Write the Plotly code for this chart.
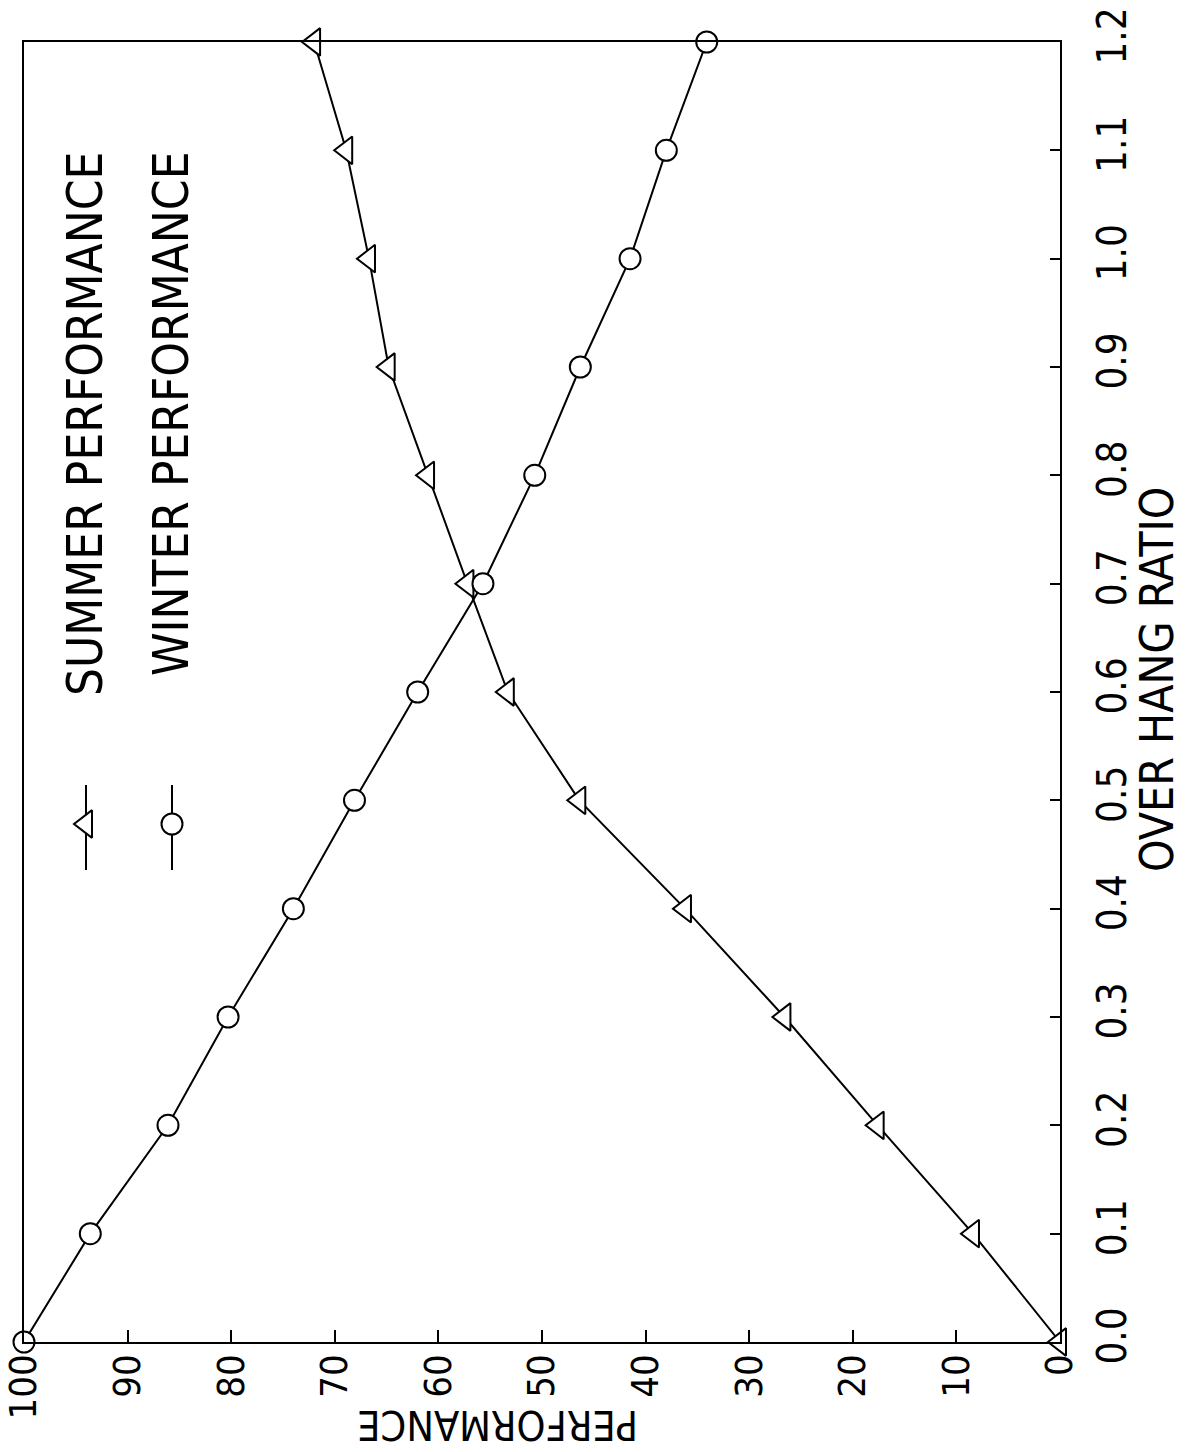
import plotly.graph_objects as go

# ---------------- data ----------------
overhang_ratio = [0.0, 0.1, 0.2, 0.3, 0.4, 0.5, 0.6, 0.7, 0.8, 0.9, 1.0, 1.1, 1.2]
summer_perf = [0.0, 8.4, 17.6, 26.6, 36.2, 46.4, 53.3, 57.2, 61.0, 64.8, 66.7, 68.9, 72.0]
winter_perf = [100.0, 93.6, 86.1, 80.3, 74.0, 68.1, 62.0, 55.7, 50.7, 46.3, 41.5, 38.0, 34.1]

perf_ticks = [0, 10, 20, 30, 40, 50, 60, 70, 80, 90, 100]
perf_labels = ["0", "10", "20", "30", "40", "50", "60", "70", "80", "90", "100"]
ratio_ticks = [0.0, 0.1, 0.2, 0.3, 0.4, 0.5, 0.6, 0.7, 0.8, 0.9, 1.0, 1.1, 1.2]
ratio_labels = ["0.0", "0.1", "0.2", "0.3", "0.4", "0.5", "0.6", "0.7", "0.8", "0.9", "1.0", "1.1", "1.2"]

series_names = ["SUMMER PERFORMANCE", "WINTER PERFORMANCE"]
x_title = "OVER HANG RATIO"
y_title = "PERFORMANCE"

# ---------------- layout geometry ----------------
W, H = 1190, 1452
L, R, T, B = 24, 1060, 42, 1342  # plot area in pixels
FONT = "DejaVu Sans Condensed, DejaVu Sans, sans-serif"


def px_x(px):
    return (px - L) / (R - L)


def px_y(py):
    return (B - py) / (B - T)


fig = go.Figure()

# Chart drawn rotated: performance runs horizontally (100 -> 0), ratio runs vertically
fig.add_trace(go.Scatter(
    x=summer_perf, y=overhang_ratio, mode="lines+markers",
    line=dict(color="black", width=2),
    marker=dict(symbol="triangle-left", size=24, color="white",
                line=dict(color="black", width=2)),
    cliponaxis=False, showlegend=False, name=series_names[0]))
fig.add_trace(go.Scatter(
    x=winter_perf, y=overhang_ratio, mode="lines+markers",
    line=dict(color="black", width=2),
    marker=dict(symbol="circle", size=21, color="white",
                line=dict(color="black", width=2)),
    cliponaxis=False, showlegend=False, name=series_names[1]))

# legend samples on an overlay axis in pixel units
leg_x = [86, 172]
leg_syms = ["triangle-left", "circle"]
leg_sizes = [24, 21]
for lx, sym, sz in zip(leg_x, leg_syms, leg_sizes):
    fig.add_trace(go.Scatter(
        x=[lx, lx], y=[785, 870], mode="lines", xaxis="x2", yaxis="y2",
        line=dict(color="black", width=2), showlegend=False, hoverinfo="skip"))
    fig.add_trace(go.Scatter(
        x=[lx], y=[824], mode="markers", xaxis="x2", yaxis="y2",
        marker=dict(symbol=sym, size=sz, color="white",
                    line=dict(color="black", width=2)),
        showlegend=False, hoverinfo="skip", cliponaxis=False))

annotations = []
for lx, name in zip(leg_x, series_names):
    annotations.append(dict(
        text=name, x=px_x(lx), y=px_y(150), xref="paper", yref="paper",
        xanchor="center", yanchor="top", textangle=-90, showarrow=False,
        font=dict(family=FONT, size=49, color="black")))

annotations.append(dict(
    text=x_title, x=px_x(1157), y=px_y(680), xref="paper", yref="paper",
    xanchor="center", yanchor="middle", textangle=-90, showarrow=False,
    font=dict(family=FONT, size=46, color="black")))
annotations.append(dict(
    text=y_title, x=px_x(498), y=px_y(1425), xref="paper", yref="paper",
    xanchor="center", yanchor="middle", textangle=180, showarrow=False,
    font=dict(family=FONT, size=41, color="black")))

fig.update_layout(
    width=W, height=H,
    margin=dict(l=L, r=W - R, t=T, b=H - B, pad=0, autoexpand=False),
    paper_bgcolor="white", plot_bgcolor="white",
    showlegend=False,
    annotations=annotations,
    xaxis=dict(
        range=[100, 0], tickvals=perf_ticks, ticktext=perf_labels,
        ticks="inside", ticklen=12, tickwidth=2, tickcolor="black",
        showline=True, linecolor="black", linewidth=2, mirror=True,
        showgrid=False, zeroline=False, tickangle=-90, automargin=False,
        ticklabelstandoff=-5, ticklabeloverflow="allow",
        tickfont=dict(family=FONT, size=38, color="black")),
    yaxis=dict(
        range=[0, 1.2], tickvals=ratio_ticks, ticktext=ratio_labels,
        side="right", ticks="inside", ticklen=10, tickwidth=2, tickcolor="black",
        showline=True, linecolor="black", linewidth=2, mirror=True,
        showgrid=False, zeroline=False, tickangle=-90, automargin=False,
        ticklabelstandoff=16, ticklabeloverflow="allow",
        tickfont=dict(family=FONT, size=40, color="black")),
    xaxis2=dict(overlaying="x", range=[L, R], visible=False, fixedrange=True),
    yaxis2=dict(overlaying="y", range=[B, T], visible=False, fixedrange=True),
)

fig.write_html("out.html", config={"displayModeBar": False},
               post_script="document.body.style.margin='0';")
